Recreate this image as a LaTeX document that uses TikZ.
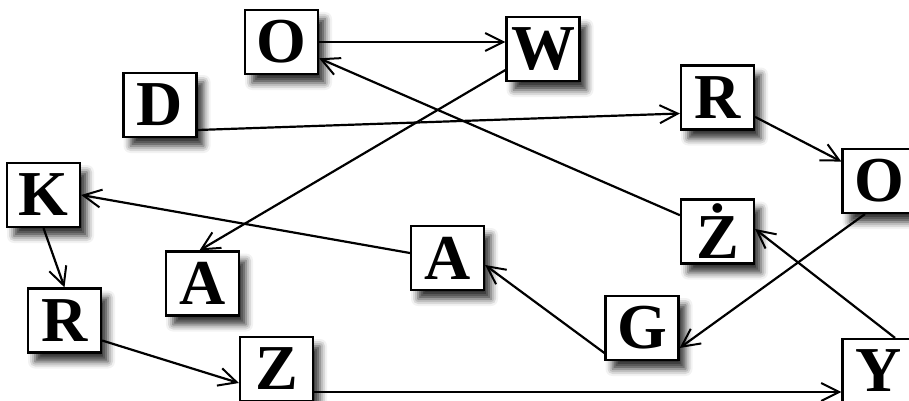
\documentclass[tikz,border=0pt]{standalone}
\usepackage{fontspec}
\setmainfont{Liberation Serif}
\usetikzlibrary{arrows.meta,shadows.blur}
\tikzstyle{kwadrat} = [draw, line width=2.2pt, fill=white, minimum width=73pt, minimum height=64pt, inner sep=0pt, font=\fontsize{64}{64}\selectfont\bfseries, blur shadow={shadow xshift=7pt, shadow yshift=-9pt, shadow blur radius=7pt, shadow opacity=80}]
\tikzstyle{strzalka} = [-{Straight Barb[length=18pt,width=18pt,line width=2pt]}, line width=2.2pt]

\begin{document}
\begin{tikzpicture}[x=1pt, y=-1pt]
\useasboundingbox (0,0) rectangle (909,401);

\node (otop) [kwadrat] at (281.5,42) {O};
\node (w) [kwadrat] at (543,49) {W};
\node (d) [kwadrat] at (160,105) {D};
\node (rtop) [kwadrat] at (717.5,97.5) {R};
\node (oright) [kwadrat] at (879,181) {O};
\node (k) [kwadrat] at (43.5,195) {K};
\node (zdot) [kwadrat] at (717.5,231.5) {Ż};
\node (amid) [kwadrat] at (447.5,258) {A};
\node (aleft) [kwadrat] at (202.5,283.5) {A};
\node (rleft) [kwadrat] at (64.5,320.5) {R};
\node (g) [kwadrat] at (642,328) {G};
\node (z) [kwadrat] at (276.5,369) {Z};
\node (y) [kwadrat] at (879,371) {Y};

\draw[strzalka] (otop.east) -- (otop.east -| w.west);
\draw[strzalka] ([yshift=-21pt]w.west) -- ([xshift=-3pt]aleft.north);
\draw[strzalka] ([yshift=-25pt]d.east) -- ([yshift=-16pt]rtop.west);
\draw[strzalka] (rtop) -- (oright);
\draw[strzalka] (zdot) -- (otop);
\draw[strzalka] ([yshift=5pt]amid.west) -- (k.east);
\draw[strzalka] (k.south) -- (rleft.north);
\draw[strzalka] ([yshift=-20pt]rleft.east) -- ([yshift=-14pt]z.west);
\draw[strzalka] ([yshift=-23pt]z.east) -- ([yshift=-21pt]y.west);
\draw[strzalka] ([xshift=16pt]y.north) -- ([yshift=2.5pt]zdot.east);
\draw[strzalka] ([yshift=-25pt]g.west) -- ([yshift=-7pt]amid.east);
\draw[strzalka] ([xshift=-14pt]oright.south) -- ([yshift=-20pt]g.east);

\end{tikzpicture}
\end{document}
